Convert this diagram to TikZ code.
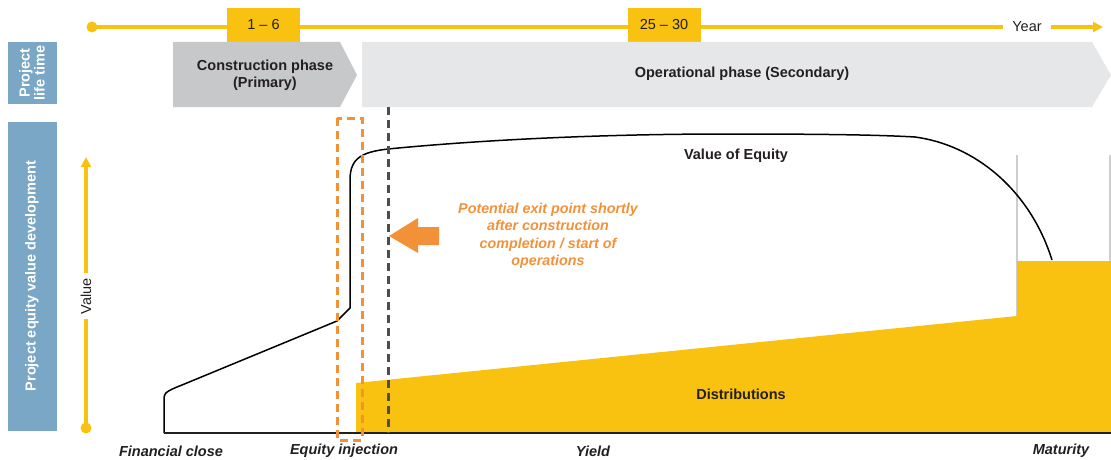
\documentclass[tikz,border=0pt]{standalone}
\usepackage{fontspec}
\setmainfont{Liberation Sans}
\usetikzlibrary{arrows.meta}
\definecolor{gold}{RGB}{249,194,17}
\definecolor{steel}{RGB}{123,167,199}
\definecolor{phasedark}{RGB}{199,200,202}
\definecolor{phaselight}{RGB}{230,231,232}
\definecolor{ink}{RGB}{35,31,32}
\definecolor{tangerine}{RGB}{243,145,57}
\definecolor{rulegray}{RGB}{77,77,77}
\definecolor{framegray}{RGB}{205,205,205}
\tikzset{
  txt/.style={font=\fontsize{14.5}{17}\selectfont, text=ink},
  bold/.style={txt, font=\fontsize{14.5}{17}\selectfont\bfseries},
  tick/.style={txt, font=\fontsize{14.5}{17}\selectfont\bfseries\itshape},
  sidebar/.style={fill=steel, draw=none},
  sidetext/.style={font=\fontsize{14.5}{17}\selectfont\bfseries, text=white, rotate=90, align=center},
  yearbox/.style={fill=gold, minimum width=73pt, minimum height=34pt, inner sep=0pt, txt},
  axis/.style={draw=gold, line width=3.4pt},
  dot/.style={circle, fill=gold, inner sep=0pt, minimum size=11pt},
  tip/.style={-{Triangle[length=10pt,width=10pt]}},
  dashdark/.style={draw=rulegray, line width=3pt, dash pattern=on 8pt off 5pt},
  dashorange/.style={draw=tangerine, line width=3pt, dash pattern=on 8pt off 5pt},
  framerule/.style={draw=framegray, line width=1.4pt},
}
\begin{document}
\begin{tikzpicture}[x=1pt,y=-1pt]
\useasboundingbox (0,0) rectangle (1111,460);

% ---- time line along the top
\node[dot] (t0) at (92,27) {};
\node[txt, inner xsep=9pt] (year) at (1027,27) {Year};
\coordinate (tend) at (1103,27);
\draw[axis] (t0.center) -- (year.west);
\draw[axis, tip] (year.east) -- (tend);
\node[yearbox] (y1) at (263.5,25) {1 -- 6};
\node[yearbox] (y2) at (664,25) {25 -- 30};

% ---- side labels
\fill[sidebar] (8,42) rectangle (57,104);
\node[sidetext] (life) at (32,73) {Project\\[-2pt]life time};
\fill[sidebar] (8,122) rectangle (57,431);
\node[sidetext] (devel) at (32,276) {Project equity value development};

% ---- phase chevrons
\fill[phasedark] (173,42) -- (340,42) -- (357,75) -- (340,107) -- (173,107) -- cycle;
\node[bold, align=center] (constr) at (265,75) {Construction phase\\(Primary)};
\fill[phaselight] (362,42) -- (1092,42) -- (1111,75) -- (1092,107) -- (362,107) -- cycle;
\node[bold] (oper) at (742,74) {Operational phase (Secondary)};

% ---- value axis
\node[dot] (v0) at (86,428) {};
\node[txt, rotate=90, inner sep=5pt] (vlabel) at (86,296) {Value};
\coordinate (vtop) at (86,157);
\draw[axis] (v0.center) -- (vlabel.west);
\draw[axis, tip] (vlabel.east) -- (vtop);

% ---- distributions area and maturity frame
\draw[framerule] (1017,155) -- (1017,316);
\draw[framerule] (1110,155) -- (1110,261);
\fill[gold] (356,383) -- (1017,316) -- (1017,261) -- (1111,261) -- (1111,433) -- (356,433) -- cycle;
\node[bold] (dist) at (741,394) {Distributions};

% ---- value of equity curve
\draw[black, line width=1.5pt, line join=round]
  (164,433) -- (164,397) .. controls (164,392) and (172,389) .. (182,385)
  -- (337,321) -- (350,308) -- (350,180)
  .. controls (350,158) and (362,152) .. (388,149)
  .. controls (480,140) and (600,134) .. (727,134)
  .. controls (830,134) and (880,135) .. (915,137)
  .. controls (975,145) and (1030,190) .. (1052,260);
\node[bold] (voe) at (736,156) {Value of Equity};

% ---- base line
\draw[ink, line width=2pt] (164,433) -- (1111,433);

% ---- exit marker
\draw[dashorange] (337,118) rectangle (362,440);
\draw[dashdark] (388,107) -- (388,433);
\fill[tangerine] (389,236) -- (418,218) -- (418,227) -- (439,227) -- (439,245) -- (418,245) -- (418,253) -- cycle;
\node[font=\fontsize{14.3}{17.5}\selectfont\bfseries\itshape, text=tangerine, align=center] (exit) at (548,236)
  {Potential exit point shortly\\after construction\\completion / start of\\operations};

% ---- time labels along the bottom
\node[tick] (fc) at (171,451) {Financial close};
\node[tick] (ei) at (344,451) {Equity injection};
\node[tick] (yl) at (593,451) {Yield};
\node[tick] (mt) at (1061,451) {Maturity};
\end{tikzpicture}
\end{document}
